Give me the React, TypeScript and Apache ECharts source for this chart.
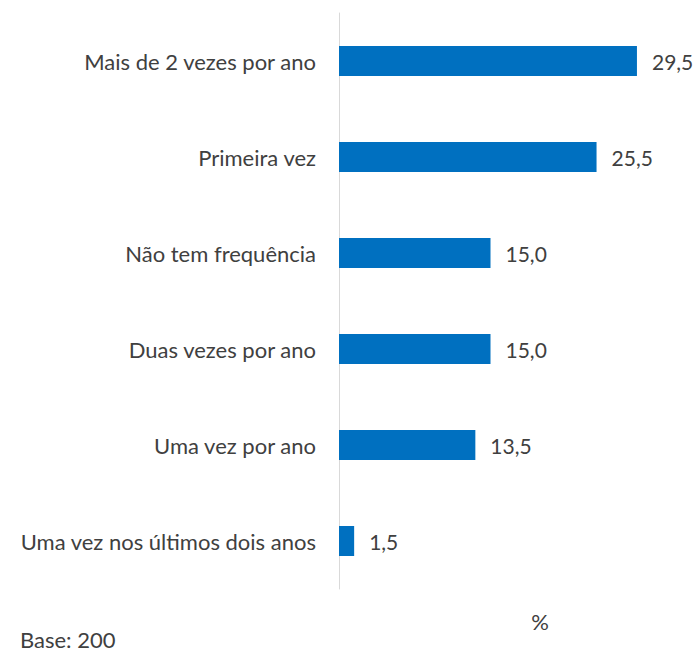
import React, { useEffect, useRef } from "react";
import * as echarts from "echarts";

const categories = [
  "Mais de 2 vezes por ano",
  "Primeira vez",
  "Não tem frequência",
  "Duas vezes por ano",
  "Uma vez por ano",
  "Uma vez nos últimos dois anos",
];
const values = [29.5, 25.5, 15.0, 15.0, 13.5, 1.5];
const unitLabel = "%";
const baseLabel = "Base: 200";

const FONT = "Lato, 'Open Sans', sans-serif";
const TEXT = "#404040";

export default function App() {
  const ref = useRef<HTMLDivElement>(null);
  useEffect(() => {
    if (!ref.current) return;
    const chart = echarts.init(ref.current, undefined, { renderer: "svg" });
    chart.setOption({
      animation: false,
      backgroundColor: "#ffffff",
      textStyle: { fontFamily: FONT },
      grid: { left: 339, top: 13, width: 303, height: 576, containLabel: false },
      xAxis: {
        type: "value",
        min: 0,
        max: 30,
        show: false,
      },
      yAxis: {
        type: "category",
        data: categories,
        inverse: true,
        axisLine: { show: true, lineStyle: { color: "#d9d9d9", width: 1 } },
        axisTick: { show: false },
        axisLabel: { color: TEXT, fontSize: 22, fontFamily: FONT, margin: 23 },
        splitLine: { show: false },
      },
      series: [
        {
          type: "bar",
          data: values,
          barWidth: 30,
          itemStyle: { color: "#0070C0" },
          label: {
            show: true,
            position: "right",
            distance: 15,
            color: TEXT,
            fontSize: 21,
            fontFamily: FONT,
            formatter: (p: any) => Number(p.value).toFixed(1).replace(".", ","),
          },
        },
      ],
      graphic: [
        {
          type: "text",
          x: 540,
          y: 621,
          style: {
            text: unitLabel,
            fill: TEXT,
            fontSize: 22,
            fontFamily: FONT,
            textAlign: "center",
            textVerticalAlign: "middle",
          },
        },
        {
          type: "text",
          x: 20,
          y: 639,
          style: {
            text: baseLabel,
            fill: TEXT,
            fontSize: 22,
            fontFamily: FONT,
            textAlign: "left",
            textVerticalAlign: "middle",
          },
        },
      ],
    });
    return () => chart.dispose();
  }, []);
  return (
    <div
      ref={ref}
      style={{ position: "fixed", left: 0, top: 0, width: 700, height: 654 }}
    />
  );
}
